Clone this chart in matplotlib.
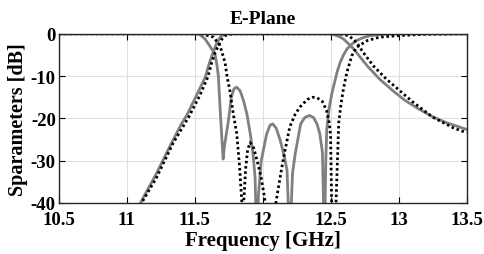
import matplotlib
matplotlib.use("Agg")
import matplotlib.pyplot as plt

# ---- data ----
s21_solid_f = [11.05, 11.11, 11.22, 11.32, 11.40, 11.447, 11.50, 11.545, 11.577, 11.61,
               11.638, 11.66, 11.69, 11.72, 11.75, 12.0, 12.48, 12.52, 12.56, 12.594,
               12.63, 12.67, 12.72, 12.77, 12.86, 12.96, 13.05, 13.15, 13.25, 13.35, 13.5]
s21_solid_db = [-43.5, -39.5, -33.0, -26.5, -21.5, -19.0, -15.5, -12.5, -10.4, -6.8,
                -4.3, -2.4, -0.7, -0.1, 0.0, 0.0, 0.0, -0.15, -0.6, -1.2,
                -2.3, -3.6, -5.6, -7.6, -10.7, -13.5, -15.8, -17.8, -19.6, -21.0, -22.6]

s21_dot_f = [11.05, 11.11, 11.22, 11.34, 11.46, 11.54, 11.60, 11.626, 11.65, 11.675,
             11.70, 11.724, 11.76, 11.80, 12.2, 12.55, 12.60, 12.64, 12.69, 12.74,
             12.815, 12.91, 13.0, 13.1, 13.25, 13.4, 13.5]
s21_dot_db = [-44.0, -40.0, -34.0, -26.0, -19.5, -14.5, -10.0, -6.8, -4.5, -2.8,
              -1.3, -0.45, -0.1, 0.0, 0.0, 0.0, -0.15, -0.6, -2.0, -4.4,
              -7.6, -10.7, -13.2, -16.0, -19.7, -22.2, -23.4]

s11_solid_f = [10.5, 11.53, 11.577, 11.61, 11.626, 11.65, 11.665, 11.675, 11.69, 11.705,
               11.71, 11.72, 11.749, 11.77, 11.79, 11.81, 11.835, 11.86, 11.885, 11.91,
               11.93, 11.945, 11.957, 11.97, 11.99, 12.03, 12.055, 12.075, 12.10, 12.13,
               12.16, 12.18, 12.20, 12.22, 12.24, 12.28, 12.31, 12.345, 12.375, 12.40,
               12.42, 12.44, 12.455, 12.465, 12.472, 12.49, 12.51, 12.533, 12.55, 12.57,
               12.595, 12.62, 12.655, 12.69, 12.74, 12.79, 12.90, 13.0, 13.5]
s11_solid_db = [0.0, 0.0, -1.2, -2.8, -3.6, -4.8, -7.5, -10.0, -19.0, -27.0,
                -29.6, -26.5, -20.5, -15.0, -13.0, -12.6, -13.5, -15.8, -19.0, -23.7,
                -28.5, -34.0, -50.0, -38.0, -30.0, -23.7, -21.6, -21.3, -22.3, -25.2,
                -29.0, -32.3, -50.0, -33.0, -28.4, -21.3, -19.8, -19.3, -19.8, -21.3,
                -23.5, -28.0, -50.0, -30.0, -22.6, -17.5, -14.0, -11.0, -8.8, -6.8,
                -5.0, -3.6, -2.5, -1.6, -0.9, -0.45, -0.1, 0.0, 0.0]

s11_dot_f = [10.5, 11.55, 11.64, 11.687, 11.724, 11.74, 11.76, 11.785, 11.81, 11.83,
             11.847, 11.855, 11.865, 11.875, 11.89, 11.908, 11.935, 11.96, 11.99, 12.018,
             12.05, 12.08, 12.10, 12.15, 12.20, 12.24, 12.275, 12.33, 12.37, 12.40,
             12.44, 12.47, 12.49, 12.50, 12.508, 12.52, 12.54, 12.56, 12.575, 12.594,
             12.62, 12.656, 12.69, 12.77, 12.86, 12.99, 13.2, 13.5]
s11_dot_db = [0.0, 0.0, -0.8, -2.8, -6.8, -10.3, -13.5, -19.0, -23.6, -31.0,
              -39.5, -43.0, -38.0, -32.0, -27.5, -25.7, -27.0, -30.0, -34.0, -39.5,
              -50.0, -45.0, -39.5, -30.0, -22.0, -19.0, -17.3, -15.5, -15.0, -15.1,
              -16.0, -18.1, -21.0, -24.0, -40.0, -55.0, -40.0, -21.0, -17.0, -13.1,
              -9.1, -5.2, -3.2, -1.6, -0.8, -0.45, -0.1, 0.0]

x_ticks = [10.5, 11, 11.5, 12, 12.5, 13, 13.5]
x_tick_labels = ["10.5", "11", "11.5", "12", "12.5", "13", "13.5"]
y_ticks = [0, -10, -20, -30, -40]
y_tick_labels = ["0", "-10", "-20", "-30", "-40"]

plt.rcParams['font.family'] = ['Liberation Serif', 'DejaVu Serif']
plt.rcParams['font.weight'] = 'bold'

fig = plt.figure(figsize=(4.84, 2.55), dpi=100)
ax = fig.add_axes([0.121, 0.20, 0.843, 0.6635])

gray = "#808080"
ax.plot(s21_solid_f, s21_solid_db, color=gray, lw=2.0, solid_joinstyle='round')
ax.plot(s11_solid_f, s11_solid_db, color=gray, lw=2.0, solid_joinstyle='round')
ax.plot(s21_dot_f, s21_dot_db, color="black", lw=2.0, linestyle=(0, (0.9, 1.0)))
ax.plot(s11_dot_f, s11_dot_db, color="black", lw=2.0, linestyle=(0, (0.9, 1.0)))

ax.set_xlim(10.5, 13.5)
ax.set_ylim(-40, 0)
ax.set_xticks(x_ticks)
ax.set_xticklabels(x_tick_labels)
ax.set_yticks(y_ticks)
ax.set_yticklabels(y_tick_labels)
ax.tick_params(direction='in', top=True, right=True, length=4, width=0.8, labelsize=13.5)
ax.tick_params(axis='x', pad=5.5)
ax.tick_params(axis='y', pad=2)
for lab in ax.get_xticklabels() + ax.get_yticklabels():
    lab.set_fontweight('bold')
ax.grid(True, color="#e0e0e0", lw=0.8)
ax.set_axisbelow(True)
for sp in ax.spines.values():
    sp.set_linewidth(1.0)
    sp.set_color("#262626")

ax.set_xlabel("Frequency [GHz]", fontsize=15, fontweight='bold', labelpad=2)
ax.set_ylabel("Sparameters [dB]", fontsize=14.5, fontweight='bold', labelpad=2)
ax.set_title("E-Plane", fontsize=14, fontweight='bold', pad=8)

fig.savefig("out.png", dpi=100)
